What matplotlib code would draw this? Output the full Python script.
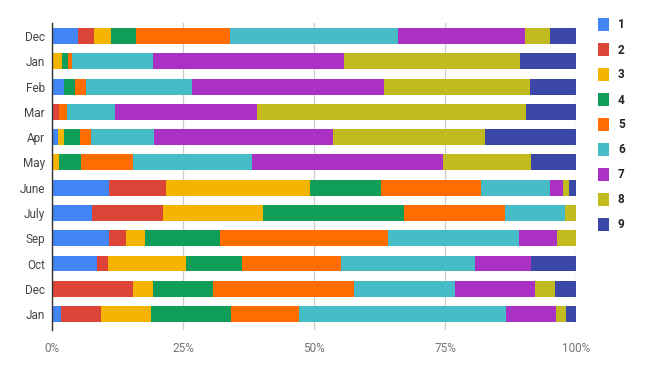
import matplotlib
matplotlib.use("Agg")
import matplotlib.pyplot as plt
from matplotlib.patches import Rectangle
import numpy as np

plt.rcParams['font.family'] = ['Roboto', 'DejaVu Sans']

# months, top to bottom
months = ['Dec', 'Jan', 'Feb', 'Mar', 'Apr', 'May', 'June', 'July',
          'Sep', 'Oct', 'Dec', 'Jan']
series = ['1', '2', '3', '4', '5', '6', '7', '8', '9']

# share (%) of each series per row
s1 = [4.9, 0.0, 2.2, 0.0, 1.1, 0.0, 10.8, 7.7, 10.8, 8.5, 0.0, 1.8]
s2 = [3.2, 0.0, 0.0, 1.4, 0.0, 0.0, 10.9, 13.4, 3.4, 2.1, 15.4, 7.6]
s3 = [3.2, 2.0, 0.0, 0.0, 1.1, 1.4, 27.6, 19.2, 3.6, 14.9, 3.8, 9.4]
s4 = [4.8, 1.0, 2.1, 0.0, 3.2, 4.2, 13.4, 26.9, 14.3, 10.7, 11.6, 15.3]
s5 = [17.8, 0.9, 2.1, 1.4, 2.1, 9.9, 19.2, 19.3, 32.1, 19.0, 26.9, 13.1]
s6 = [32.2, 15.3, 20.4, 9.3, 11.9, 22.6, 13.2, 11.4, 25.0, 25.6, 19.3, 39.5]
s7 = [24.2, 36.6, 36.6, 27.1, 34.3, 36.6, 2.5, 0.0, 7.2, 10.7, 15.2, 9.5]
s8 = [4.8, 33.6, 27.9, 51.3, 29.0, 16.8, 1.1, 2.1, 3.6, 0.0, 3.8, 1.9]
s9 = [4.9, 10.6, 8.7, 9.5, 17.3, 8.5, 1.3, 0.0, 0.0, 8.5, 4.0, 1.9]

colors = ['#4285F4', '#DB4437', '#F4B400', '#0F9D58', '#FF6D00',
          '#46BDC6', '#AB30C4', '#C2BB1F', '#3B48A8']

data = np.array([s1, s2, s3, s4, s5, s6, s7, s8, s9], dtype=float)
data = data / data.sum(axis=0) * 100

fig = plt.figure(figsize=(6.56, 3.71), dpi=100)
ax = fig.add_axes([52 / 656, 1 - 330 / 371, 524 / 656, (330 - 23.4) / 371])

y = np.arange(len(months))
left = np.zeros(len(months))
for vals, c in zip(data, colors):
    ax.barh(y, vals, left=left, height=0.63, color=c, linewidth=0)
    left += vals

ax.set_xlim(0, 100)
ax.set_ylim(11.63, -0.5)
ax.set_yticks(y)
ax.set_yticklabels(months)
ax.set_xticks([0, 25, 50, 75, 100])
ax.set_xticklabels(['0%', '25%', '50%', '75%', '100%'])
ax.tick_params(axis='both', length=0, labelsize=8.5)
ax.tick_params(axis='x', colors='#757575', pad=9)
ax.tick_params(axis='y', colors='#444444', pad=5)
ax.xaxis.grid(True, color='#cccccc', linewidth=0.9)
ax.set_axisbelow(True)
for side in ['top', 'right', 'bottom']:
    ax.spines[side].set_visible(False)
ax.spines['left'].set_color('#333333')
ax.spines['left'].set_linewidth(1.0)

# legend on the right
for i, (name, c) in enumerate(zip(series, colors)):
    yc = 25 + i * 25
    fig.patches.append(Rectangle((598 / 656, 1 - (yc + 6) / 371), 11 / 656, 13 / 371,
                                 transform=fig.transFigure, color=c, linewidth=0))
    fig.text(618 / 656, 1 - yc / 371, name, fontsize=8.5, fontweight='bold',
             color='#222222', va='center', ha='left')

fig.savefig('out.png', dpi=100)
